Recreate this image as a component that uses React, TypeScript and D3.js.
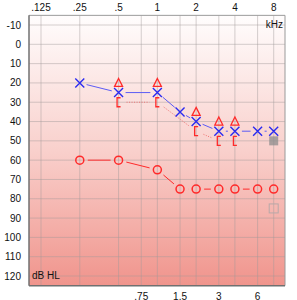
import * as d3 from "d3";

// chart size and plot box
const width = 297;
const height = 300;
const plotLeft = 29;
const plotRight = 285;

// frequencies (kHz)
const mainFreqs = [0.125, 0.25, 0.5, 1, 2, 4, 8];
const mainLabels = [".125", ".25", ".5", "1", "2", "4", "8"];
const midFreqs = [0.75, 1.5, 3, 6];
const midLabels = [".75", "1.5", "3", "6"];
const dbTicks = [-10, 0, 10, 20, 30, 40, 50, 60, 70, 80, 90, 100, 110, 120];

// left air (blue X)
const leftAirFreq = [0.25, 0.5, 1, 1.5, 2, 3, 4, 6, 8];
const leftAirDb = [20, 25, 25, 35, 40, 45, 45, 45, 45];

// right air (red O)
const rightAirFreq = [0.25, 0.5, 1, 1.5, 2, 3, 4, 6, 8];
const rightAirDb = [60, 60, 65, 75, 75, 75, 75, 75, 75];

// masked markers (red triangle)
const triFreq = [0.5, 1, 2, 3, 4];
const triDb = [20, 20, 35, 40, 40];

// masked bone (red [)
const boneFreq = [0.5, 1, 2, 3, 4];
const boneDb = [30, 30, 45, 50, 50];

// gray squares
const graySolidFreq = [8];
const graySolidDb = [50];
const grayOpenFreq = [8];
const grayOpenDb = [85];

const x = d3.scaleLog().base(2).domain([0.125, 8]).range([41, 273.7]);
const y = d3.scaleLinear().domain([-10, 120]).range([25, 276]);
const plotTop = y(-15);
const plotBottom = y(125);

const trimmed = (fs: number[], ds: number[], gap: number) => {
  const segs: { x1: number; y1: number; x2: number; y2: number }[] = [];
  for (let i = 0; i < fs.length - 1; i++) {
    const ax = x(fs[i]), ay = y(ds[i]), bx = x(fs[i + 1]), by = y(ds[i + 1]);
    const len = Math.hypot(bx - ax, by - ay);
    if (len <= gap * 2) continue;
    const ux = (bx - ax) / len, uy = (by - ay) / len;
    segs.push({ x1: ax + ux * gap, y1: ay + uy * gap, x2: bx - ux * gap, y2: by - uy * gap });
  }
  return segs;
};

const font = "'Liberation Sans', Arial, sans-serif";

export default function App() {
  const blue = "#2b2bf0";
  const red = "#ff2a2a";
  return (
    <svg width={width} height={height} style={{ position: "absolute", left: 0, top: 0 }}>
      <defs>
        <linearGradient id="bg" x1="0" y1="0" x2="0" y2="1">
          <stop offset="0%" stopColor="#fffdfd" />
          <stop offset="50%" stopColor="#f9d0cc" />
          <stop offset="100%" stopColor="#f0948c" />
        </linearGradient>
      </defs>
      <rect x={0} y={0} width={width} height={height} fill="#fff" />
      <rect x={plotLeft} y={plotTop} width={plotRight - plotLeft} height={plotBottom - plotTop} fill="url(#bg)" />

      {/* grid */}
      {dbTicks.map((d) => (
        <line key={"h" + d} x1={plotLeft} x2={plotRight} y1={y(d)} y2={y(d)} stroke="#a09898" strokeOpacity={0.45} />
      ))}
      {[...mainFreqs, ...midFreqs].map((f) => (
        <line key={"v" + f} x1={x(f)} x2={x(f)} y1={plotTop} y2={plotBottom} stroke="#a09898" strokeOpacity={0.45} />
      ))}

      {/* borders */}
      <line x1={plotLeft} x2={plotRight} y1={plotTop} y2={plotTop} stroke="#9a9a9a" />
      <line x1={plotRight} x2={plotRight} y1={plotTop} y2={plotBottom} stroke="#9a9a9a" />
      <line x1={plotLeft} x2={plotLeft} y1={plotTop} y2={plotBottom} stroke="#707070" strokeWidth={1.5} />
      <line x1={plotLeft} x2={plotRight} y1={plotBottom} y2={plotBottom} stroke="#707070" strokeWidth={1.5} />

      {/* labels */}
      <g fontFamily={font} fontSize={10} fill="#111">
        {mainFreqs.map((f, i) => (
          <text key={"t" + f} x={x(f)} y={11} textAnchor="middle">{mainLabels[i]}</text>
        ))}
        {midFreqs.map((f, i) => (
          <text key={"b" + f} x={x(f)} y={299.5} textAnchor="middle">{midLabels[i]}</text>
        ))}
        {dbTicks.map((d) => (
          <text key={"y" + d} x={21} y={y(d) + 3.5} textAnchor="end">{d}</text>
        ))}
        <text x={283} y={28} textAnchor="end">kHz</text>
        <text x={32} y={279} textAnchor="start">dB HL</text>
      </g>

      {/* connecting lines */}
      {trimmed(boneFreq, boneDb, 8).map((s, i) => (
        <line key={"bl" + i} {...s} stroke="#f07070" strokeWidth={1} strokeDasharray="1,1.5" />
      ))}
      {trimmed(leftAirFreq, leftAirDb, 7).map((s, i) => (
        <line key={"ll" + i} {...s} stroke="#5c5cf5" strokeWidth={1} />
      ))}
      {trimmed(rightAirFreq, rightAirDb, 8).map((s, i) => (
        <line key={"rl" + i} {...s} stroke={red} strokeWidth={1} />
      ))}

      {/* gray squares */}
      {graySolidFreq.map((f, i) => (
        <rect key={"gs" + i} x={x(f) - 4.5} y={y(graySolidDb[i]) - 4.5} width={9} height={9} fill="#8c8c8c" fillOpacity={0.75} />
      ))}
      {grayOpenFreq.map((f, i) => (
        <rect key={"go" + i} x={x(f) - 4.5} y={y(grayOpenDb[i]) - 4.5} width={9} height={9} fill="none" stroke="#b8a8a8" />
      ))}

      {/* markers */}
      {rightAirFreq.map((f, i) => (
        <circle key={"o" + i} cx={x(f)} cy={y(rightAirDb[i])} r={4} fill="none" stroke={red} strokeWidth={1.5} />
      ))}
      {triFreq.map((f, i) => {
        const cx = x(f), cy = y(triDb[i]);
        return (
          <path key={"tr" + i} d={`M${cx},${cy - 4.5}L${cx + 4},${cy + 3.5}L${cx - 4},${cy + 3.5}Z`} fill="none" stroke={red} strokeWidth={1.3} />
        );
      })}
      {boneFreq.map((f, i) => {
        const cx = x(f), cy = y(boneDb[i]);
        return (
          <path key={"br" + i} d={`M${cx + 2},${cy - 4.5}H${cx - 1.5}V${cy + 4.5}H${cx + 2}`} fill="none" stroke={red} strokeWidth={1.3} />
        );
      })}
      {leftAirFreq.map((f, i) => {
        const cx = x(f), cy = y(leftAirDb[i]);
        return (
          <path key={"x" + i} d={`M${cx - 4.5},${cy - 4.5}L${cx + 4.5},${cy + 4.5}M${cx + 4.5},${cy - 4.5}L${cx - 4.5},${cy + 4.5}`} stroke={blue} strokeWidth={1.4} />
        );
      })}
    </svg>
  );
}
